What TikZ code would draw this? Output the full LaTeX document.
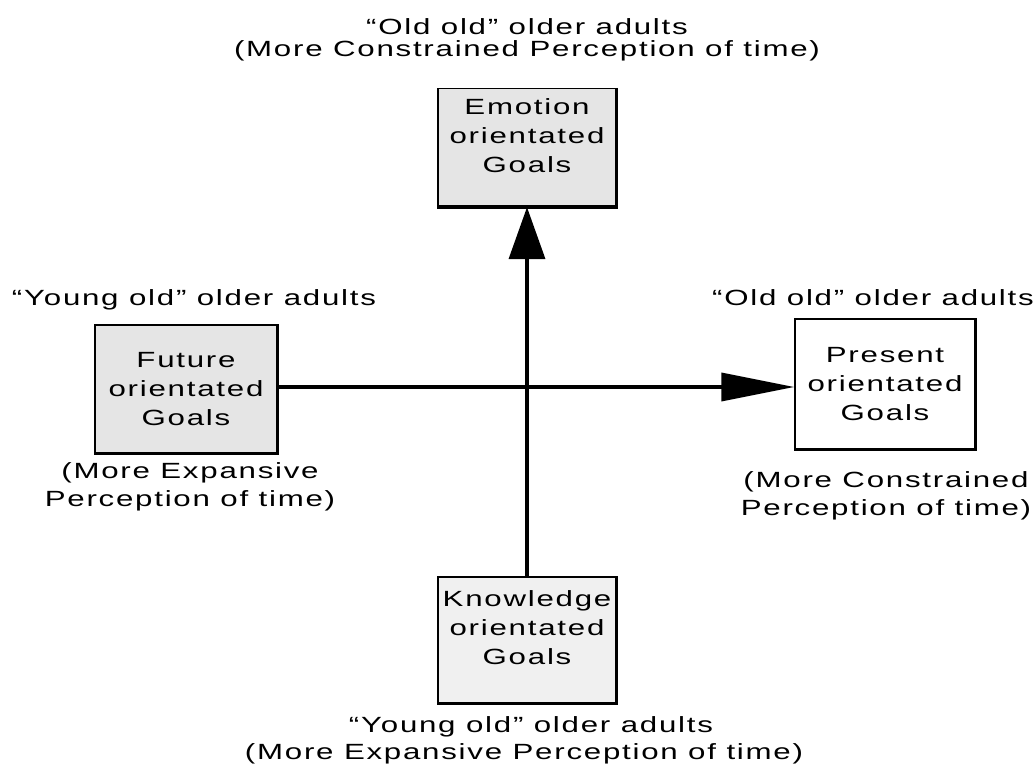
\documentclass[tikz,border=0pt]{standalone}
\usepackage{fontspec}
\setmainfont[FakeStretch=1.42,LetterSpace=8]{Liberation Sans}
\usetikzlibrary{arrows.meta}

\definecolor{goalgrey}{gray}{0.90}
\definecolor{goallight}{gray}{0.94}

\begin{document}
\begin{tikzpicture}[x=1pt, y=-1pt, line join=miter]
  \tikzset{
    goal/.style={draw=black, line width=1.3pt, inner sep=0pt,
      minimum width=178pt, minimum height=124pt, align=center,
      font=\fontsize{22pt}{29pt}\selectfont},
    shade/.style={line width=3.5pt, draw=black},
    axis/.style={line width=3.6pt, draw=black},
    lbl/.style={inner sep=0pt, anchor=base, font=\fontsize{22pt}{28pt}\selectfont}
  }
  \useasboundingbox (0,0) rectangle (1034,768);

  % Goal boxes
  \node[goal, fill=goalgrey, minimum height=118pt] (Emo) at (527,147.5) {Emotion\\orientated\\Goals\\[-5pt]\mbox{}};
  \node[goal, fill=goalgrey, minimum width=182pt, minimum height=128pt] (Fut) at (186,389) {Future\\orientated\\Goals};
  \node[goal, fill=white, minimum width=180pt, minimum height=130pt] (Pre) at (885,384) {Present\\orientated\\Goals};
  \node[goal, fill=goallight, minimum height=126pt] (Kno) at (527,640) {Knowledge\\orientated\\Goals\\[-5pt]\mbox{}};

  % Thick right and bottom edges
  \foreach \b in {Emo, Fut, Pre, Kno}
    \draw[shade] (\b.north east) -- (\b.south east) -- (\b.south west);

  % Axes
  \draw[axis, -{Triangle[length=52pt, width=36pt]}] (Kno.north) -- (Emo.south);
  \draw[axis, -{Triangle[length=73pt, width=28pt]}] (Fut.east |- 0,387) -- (Pre.west |- 0,387);

  % Top labels
  \node[lbl] (topA) at (527,35) {“Old old” older adults};
  \node[lbl] (topB) at (527,57) {(More Constrained Perception of time)};

  % Left labels
  \node[lbl] (leftA) at (194,305) {“Young old” older adults};
  \node[lbl] (leftB) at (190,478) {(More Expansive};
  \node[lbl] (leftC) at (190,506) {Perception of time)};

  % Right labels
  \node[lbl] (rightA) at (873,305) {“Old old” older adults};
  \node[lbl] (rightB) at (886,487) {(More Constrained};
  \node[lbl] (rightC) at (886,515) {Perception of time)};

  % Bottom labels
  \node[lbl] (botA) at (531,732) {“Young old” older adults};
  \node[lbl] (botB) at (524,759) {(More Expansive Perception of time)};
\end{tikzpicture}
\end{document}
